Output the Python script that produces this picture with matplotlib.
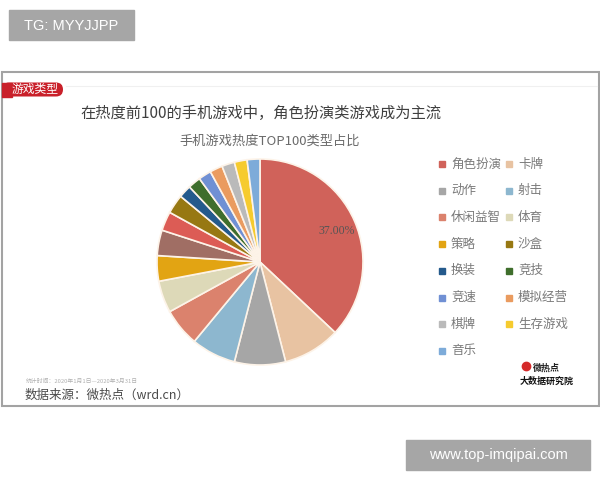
import matplotlib
matplotlib.use("Agg")
import matplotlib.pyplot as plt
from matplotlib.patches import Rectangle, FancyBboxPatch

plt.rcParams['font.family'] = ['Noto Sans CJK SC', 'DejaVu Sans']

# pie data (percent), in drawing order from 12 o'clock, clockwise
categories = ['角色扮演', '卡牌', '动作', '射击', '休闲益智', '体育', '策略',
              '其他A', '其他B', '沙盒', '换装', '竞技', '竞速', '模拟经营',
              '棋牌', '生存游戏', '音乐']
shares = [37, 9, 8, 7, 6, 5, 4, 4, 3, 3, 2, 2, 2, 2, 2, 2, 2]
colors = ['#d0625a', '#e8c3a2', '#a6a6a6', '#8db7cf', '#db826d', '#ddd9b8',
          '#e2a413', '#a06e64', '#dc5c55', '#977812', '#245a8c', '#3f6e2c',
          '#7090d4', '#ea9b5f', '#bababa', '#f6cb2e', '#7dabd9']
# the legend in the picture only lists these
legend_names = ['角色扮演', '卡牌', '动作', '射击', '休闲益智', '体育', '策略',
                '沙盒', '换装', '竞技', '竞速', '模拟经营', '棋牌', '生存游戏', '音乐']

W, H = 600, 480
fig = plt.figure(figsize=(6, 4.8), dpi=100)
bg = fig.add_axes([0, 0, 1, 1])
bg.set_xlim(0, W)
bg.set_ylim(H, 0)
bg.axis('off')

# watermark boxes
bg.add_patch(Rectangle((9, 10), 125, 30, color='#a6a6a6'))
bg.text(71, 25.5, 'TG: MYYJJPP', color='white', fontsize=10.5,
        family='Liberation Sans', ha='center', va='center')
bg.add_patch(Rectangle((406, 440), 184, 30, color='#a6a6a6'))
bg.text(498, 455.5, 'www.top-imqipai.com', color='white', fontsize=10.5,
        family='Liberation Sans', ha='center', va='center')

# screenshot frame
bg.add_patch(Rectangle((1.5, 72), 597, 334, facecolor='white',
                       edgecolor='#a3a3a3', lw=1.5))
bg.plot([66, 597], [86, 86], color='#f0f0f0', lw=0.8)

# red tag
bg.add_patch(FancyBboxPatch((2, 82.5), 61, 14, boxstyle='round,pad=0,rounding_size=7',
                            facecolor='#c9202a', edgecolor='none'))
bg.add_patch(Rectangle((2, 82.5), 10, 14, color='#c9202a'))
bg.text(35, 89.5, '游戏类型', color='white', fontsize=8.5, ha='center', va='center')

bg.text(261, 113, '在热度前100的手机游戏中，角色扮演类游戏成为主流',
        color='#3f3f3f', fontsize=11, ha='center', va='center')
bg.text(270, 141, '手机游戏热度TOP100类型占比', color='#6a6a6a',
        fontsize=9.5, ha='center', va='center')

# legend, two columns
for i, name in enumerate(legend_names):
    col, row = i % 2, i // 2
    x0 = 439 + col * 67
    y0 = 164 + row * 26.7
    c = colors[categories.index(name)]
    bg.add_patch(Rectangle((x0, y0 - 3), 6, 6, color=c))
    bg.text(x0 + 12, y0, name, color='#7a7a7a', fontsize=9,
            ha='left', va='center')

# footer
bg.text(26, 381, '统计时间：2020年1月1日—2020年3月31日', color='#b0b0b0',
        fontsize=4.2, ha='left', va='center')
bg.text(25, 395, '数据来源：微热点（wrd.cn）', color='#4a4a4a',
        fontsize=9, ha='left', va='center')
bg.plot([526], [366], 'o', color='#d42a2a', ms=6)
bg.text(533, 368, '微热点', color='#222222', fontsize=6.5, fontweight='bold',
        ha='left', va='center')
bg.text(547, 381, '大数据研究院', color='#111111', fontsize=6.5, fontweight='bold',
        ha='center', va='center')

# pie
cx, cy, r = 260, 262, 103
ax = fig.add_axes([(cx - r) / W, 1 - (cy + r) / H, 2 * r / W, 2 * r / H])
wedges, texts, autotexts = ax.pie(shares, colors=colors, startangle=90,
                                  counterclock=False, radius=1,
                                  autopct='%.2f%%', pctdistance=0.85,
                                  wedgeprops=dict(edgecolor='#fdf3e8', linewidth=1.2))
for i, t in enumerate(autotexts):
    if i == 0:
        t.set_color('#555555')
        t.set_fontsize(8.5)
        t.set_family(['Liberation Serif', 'DejaVu Serif'])
        t.set_position((0.74, 0.3))
    else:
        t.set_visible(False)
ax.set_xlim(-1, 1)
ax.set_ylim(-1, 1)
ax.set_aspect('equal')
ax.axis('off')

fig.savefig('out.png', dpi=100)
